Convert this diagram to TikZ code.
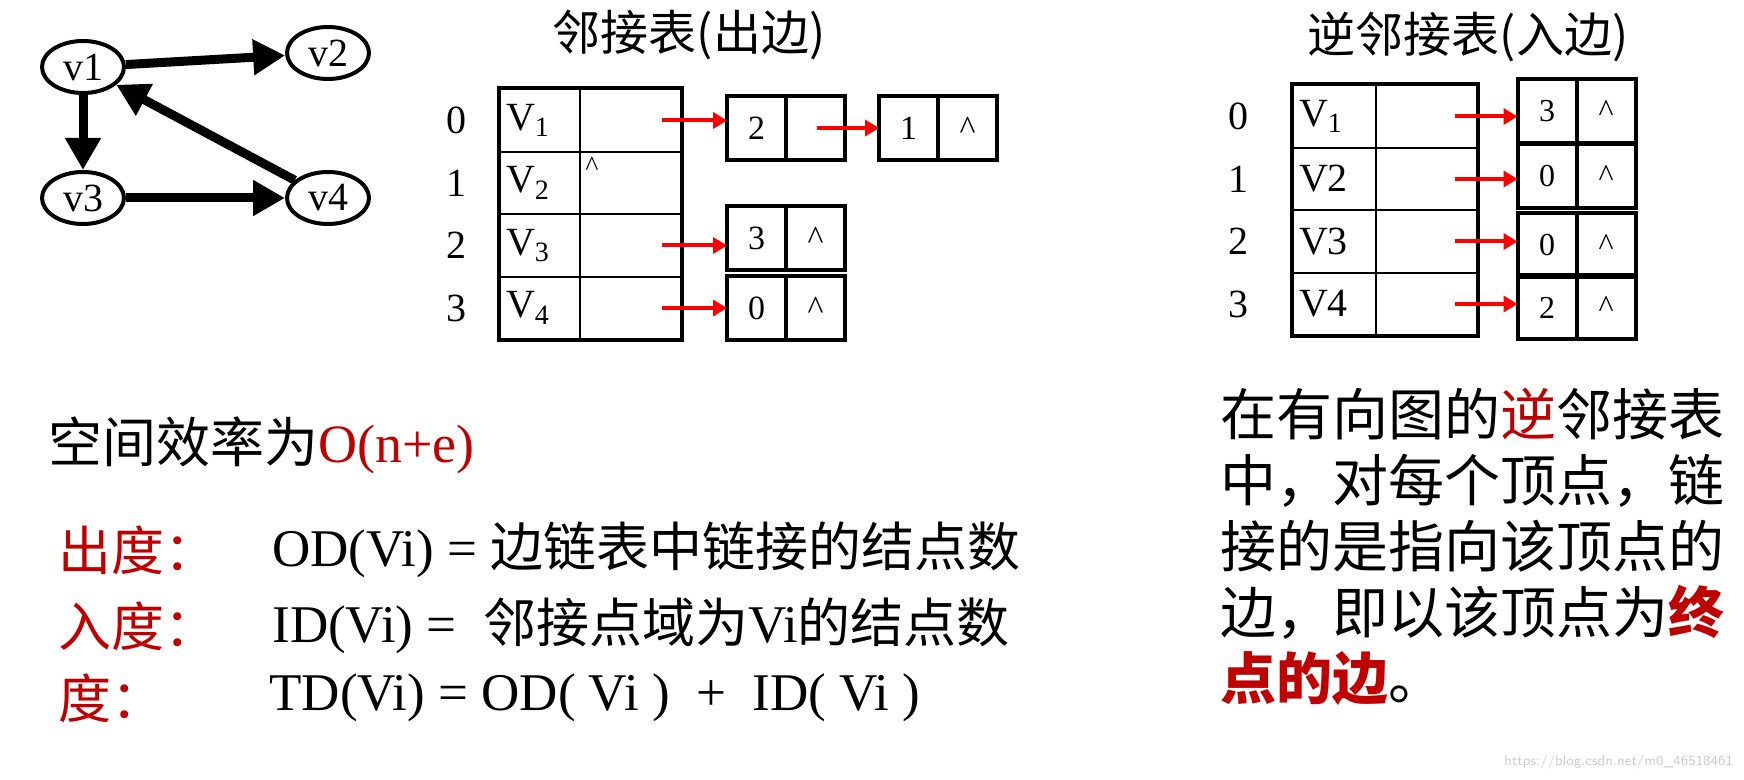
\documentclass[tikz,border=0pt]{standalone}
\usepackage{fontspec}
\setmainfont{Liberation Serif}
\newfontfamily\cjk{Noto Sans CJK SC}
\usetikzlibrary{positioning,arrows.meta,shapes.geometric}
\definecolor{dred}{RGB}{192,0,0}
\tikzset{
  vert/.style={draw, ellipse, line width=2pt, minimum width=41pt, minimum height=26pt, inner sep=0pt, font=\fontsize{20}{22}\selectfont},
  garrow/.style={line width=4.5pt, -{Triangle[length=16pt,width=17pt]}},
  namecell/.style={draw, line width=1pt, minimum width=40pt, minimum height=31.25pt, inner sep=0pt},
  ptrcell/.style={draw, line width=1pt, minimum width=50.5pt, minimum height=31.25pt, inner sep=0pt},
  lcell/.style={draw, line width=1pt, minimum width=28.5pt, minimum height=31pt, inner sep=0pt, font=\fontsize{17}{19}\selectfont},
  rcell/.style={draw, line width=1pt, minimum width=28.5pt, minimum height=31pt, inner sep=0pt, font=\fontsize{16}{18}\selectfont},
  redarrow/.style={red, line width=2pt, -{Triangle[length=7pt,width=8pt]}},
  idx/.style={font=\fontsize{20}{22}\selectfont},
  txt/.style={anchor=west, inner sep=0pt, font=\fontsize{26.5}{30}\selectfont}
}
\begin{document}
\begin{tikzpicture}[x=0.5pt,y=-0.5pt]
\useasboundingbox (0,0) rectangle (1744,780);
% graph
\node[vert] (v1) at (83,67) {v1};
\node[vert] (v2) at (328,53) {v2};
\node[vert] (v3) at (83,198) {v3};
\node[vert] (v4) at (328,198) {v4};
\draw[garrow] (v1) -- (v2);
\draw[garrow] (v1) -- (v3);
\draw[garrow] (v3) -- (v4);
\draw[garrow] (v4) -- (v1);
% adjacency list
\node[font=\cjk\fontsize{24}{26}\selectfont] (title1) at (689,35) {邻接表(出边)};
\foreach \i/\s/\y in {0/1/120.5,1/2/183,2/3/245.5,3/4/308} {
  \node[idx] (li\i) at (456,\y) {\i};
  \node[namecell] (ln\i) at (540,\y) {};
  \node[anchor=west, font=\fontsize{20}{22}\selectfont] at (ln\i.west) {V\textsubscript{\s}};
  \node[ptrcell] (lp\i) at (630.5,\y) {};
}
\node[anchor=north west, inner sep=3pt, font=\fontsize{14}{16}\selectfont] at (lp1.north west) {\textasciicircum};
\draw[line width=2pt] (ln0.north west) rectangle (lp3.south east);
\node[lcell] (a0) at (756.5,128) {2};
\node[lcell, right=0pt of a0] (a0n) {};
\node[lcell] (b0) at (908.5,128) {1};
\node[lcell, right=0pt of b0] (b0n) {\textasciicircum};
\node[lcell] (a2) at (756.5,238) {3};
\node[lcell, right=0pt of a2] (a2n) {\textasciicircum};
\node[lcell] (a3) at (756.5,308.5) {0};
\node[lcell, right=0pt of a3] (a3n) {\textasciicircum};
\foreach \n in {a0,b0,a2,a3} \draw[line width=2pt] (\n.north west) rectangle (\n n.south east);
\draw[redarrow] ([xshift=-10pt]lp0.east) -- (a0.west |- lp0.east);
\draw[redarrow] ([xshift=-14pt]a0n.east) -- (b0.west);
\draw[redarrow] ([xshift=-10pt]lp2.east) -- (a2.west |- lp2.east);
\draw[redarrow] ([xshift=-10pt]lp3.east) -- (a3.west |- lp3.east);
% inverse adjacency list
\node[font=\cjk\fontsize{24}{26}\selectfont] (title2) at (1468,37) {逆邻接表(入边)};
\foreach \i/\s/\y in {0/V\textsubscript{1}/116.5,1/V2/179,2/V3/241.5,3/V4/304} {
  \node[idx] (ri\i) at (1238,\y) {\i};
  \node[namecell, minimum width=41.5pt] (rn\i) at (1334.5,\y) {};
  \node[anchor=west, font=\fontsize{20}{22}\selectfont] at (rn\i.west) {\s};
  \node[ptrcell] (rp\i) at (1426,\y) {};
}
\draw[line width=2pt] (rn0.north west) rectangle (rp3.south east);
\foreach \i/\d/\y in {0/3/111,1/0/176,2/0/245,3/2/307.5} {
  \node[rcell] (c\i) at (1547,\y) {\d};
  \node[rcell, right=0pt of c\i] (c\i n) {\textasciicircum};
  \draw[line width=2pt] (c\i.north west) rectangle (c\i n.south east);
  \draw[redarrow] ([xshift=-11.5pt]rp\i.east) -- (c\i.west |- rp\i.east);
}
% text
\node[txt, font=\fontsize{27}{30}\selectfont] (space) at (48,445) {\cjk 空间效率为\color{dred}\rmfamily O(n+e)};
\node[txt, text=dred] (od) at (58,550) {\cjk 出度：};
\node[txt] (odf) at (272,550) {OD(Vi) = {\cjk 边链表中链接的结点数}};
\node[txt, text=dred] (id) at (58,626) {\cjk 入度：};
\node[txt] (idf) at (272,626) {ID(Vi) = \ {\cjk 邻接点域为}Vi{\cjk 的结点数}};
\node[txt, text=dred] (td) at (58,698) {\cjk 度：};
\node[txt] (tdf) at (269,698) {TD(Vi) = OD( Vi )\ \ +\ \ ID( Vi )};
\node[anchor=north west, inner sep=0pt, align=left,
  font=\cjk\fontsize{28}{33}\selectfont] (note) at (1220,388)
  {在有向图的{\color{dred}逆}邻接表\\中，对每个顶点，链\\接的是指向该顶点的\\边，即以该顶点为{\color{dred}\bfseries 终}\\{\color{dred}\bfseries 点的边}。};
\node[anchor=south east, text=gray!40, font=\sffamily\fontsize{7}{8}\selectfont] (mark) at (1740,776) {https://blog.csdn.net/m0\_46518461};
\end{tikzpicture}
\end{document}
